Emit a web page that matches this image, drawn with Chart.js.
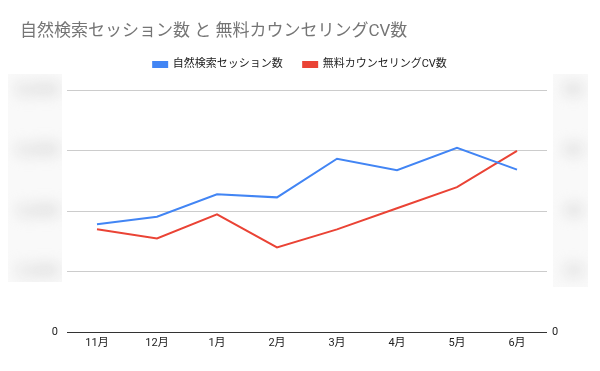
<!DOCTYPE html>
<html><head><meta charset="utf-8">
<script src="https://cdn.jsdelivr.net/npm/chart.js@4.4.1/dist/chart.umd.min.js"></script>
<style>html,body{margin:0;padding:0;background:#fff}#wrap{width:600px;height:371px}</style>
</head><body><div id="wrap"><canvas id="c" width="600" height="371"></canvas></div>
<script>
const categories = ['11月','12月','1月','2月','3月','4月','5月','6月'];
const sessions = [3570, 3820, 4560, 4460, 5740, 5360, 6100, 5380];
const cvs = [34, 31, 39, 28, 34, 41, 48, 60];
const leftTicks = [0, 2000, 4000, 6000, 8000];
const rightTicks = [0, 20, 40, 60, 80];
const titleText = '自然検索セッション数 と 無料カウンセリングCV数';
const seriesNames = ['自然検索セッション数', '無料カウンセリングCV数'];

const FONT = "Roboto, 'Noto Sans CJK JP', sans-serif";

const legendSpace = {
  id: 'legendSpace',
  afterInit(chart) {
    const lg = chart.legend;
    if (lg && !lg._patched) {
      const orig = lg.fit;
      lg.fit = function () { orig.call(this); this.height += 10.5; };
      lg._patched = true;
    }
  }
};

const blurPlugin = {
  id: 'blurLabels',
  afterDraw(chart) {
    const ctx = chart.ctx;
    const yl = chart.scales.y, yr = chart.scales.y1;
    function box(x0, x1, y0, y1, scale, ticks) {
      ctx.save();
      ctx.fillStyle = '#f9f9f9';
      ctx.fillRect(x0, y0, x1 - x0, y1 - y0);
      ctx.beginPath(); ctx.rect(x0, y0, x1 - x0, y1 - y0); ctx.clip();
      ctx.filter = 'blur(7px)';
      ctx.fillStyle = '#cdcdcd';
      ctx.font = 'bold 17px ' + FONT;
      ctx.textAlign = 'center'; ctx.textBaseline = 'middle';
      ticks.forEach(v => {
        if (v === 0) return;
        ctx.fillText(v.toLocaleString('en-US'), (x0 + x1) / 2 + 3, scale.getPixelForValue(v));
      });
      ctx.restore();
    }
    box(8, 62, 74, 282, yl, leftTicks);
    box(553, 588, 74, 287, yr, rightTicks);
  }
};

new Chart(document.getElementById('c'), {
  type: 'line',
  data: {
    labels: categories,
    datasets: [
      { label: seriesNames[0], data: sessions, borderColor: '#4285F4', backgroundColor: '#4285F4', borderWidth: 2, pointRadius: 0, yAxisID: 'y', tension: 0 },
      { label: seriesNames[1], data: cvs, borderColor: '#EA4335', backgroundColor: '#EA4335', borderWidth: 2, pointRadius: 0, yAxisID: 'y1', tension: 0 }
    ]
  },
  options: {
    responsive: false,
    animation: false,
    devicePixelRatio: 1,
    layout: { padding: { left: 20, right: 20, top: 0, bottom: 0 } },
    plugins: {
      title: {
        display: true, text: titleText, align: 'start', color: '#757575',
        font: { family: FONT, size: 17, weight: 'normal', lineHeight: 0.8 },
        padding: { top: 24.7, bottom: 0.2 }
      },
      legend: {
        display: true, position: 'top', align: 'center',
        labels: { boxWidth: 14, boxHeight: 5, padding: 20.5, color: '#222', font: { family: FONT, size: 11 } }
      },
      tooltip: { enabled: false }
    },
    scales: {
      x: {
        offset: true,
        grid: { display: false, drawTicks: false },
        border: { display: false },
        ticks: { color: '#222', font: { family: FONT, size: 11 }, padding: 5, maxRotation: 0 },
        afterFit(s) { s.height = 39; }
      },
      y: {
        position: 'left', min: 0, max: 8000,
        grid: { drawTicks: false, color: c => c.tick && c.tick.value === 0 ? '#333' : '#ccc', lineWidth: 1 },
        border: { display: false },
        ticks: { stepSize: 2000, padding: 9, color: '#222', font: { family: FONT, size: 11 }, callback: v => v === 0 ? '0' : '' },
        afterFit(s) { s.width = 47; }
      },
      y1: {
        position: 'right', min: 0, max: 80,
        grid: { display: false, drawTicks: false },
        border: { display: false },
        ticks: { stepSize: 20, padding: 5, color: '#222', font: { family: FONT, size: 11 }, callback: v => v === 0 ? '0' : '' },
        afterFit(s) { s.width = 33; }
      }
    }
  },
  plugins: [legendSpace, blurPlugin]
});
</script></body></html>
